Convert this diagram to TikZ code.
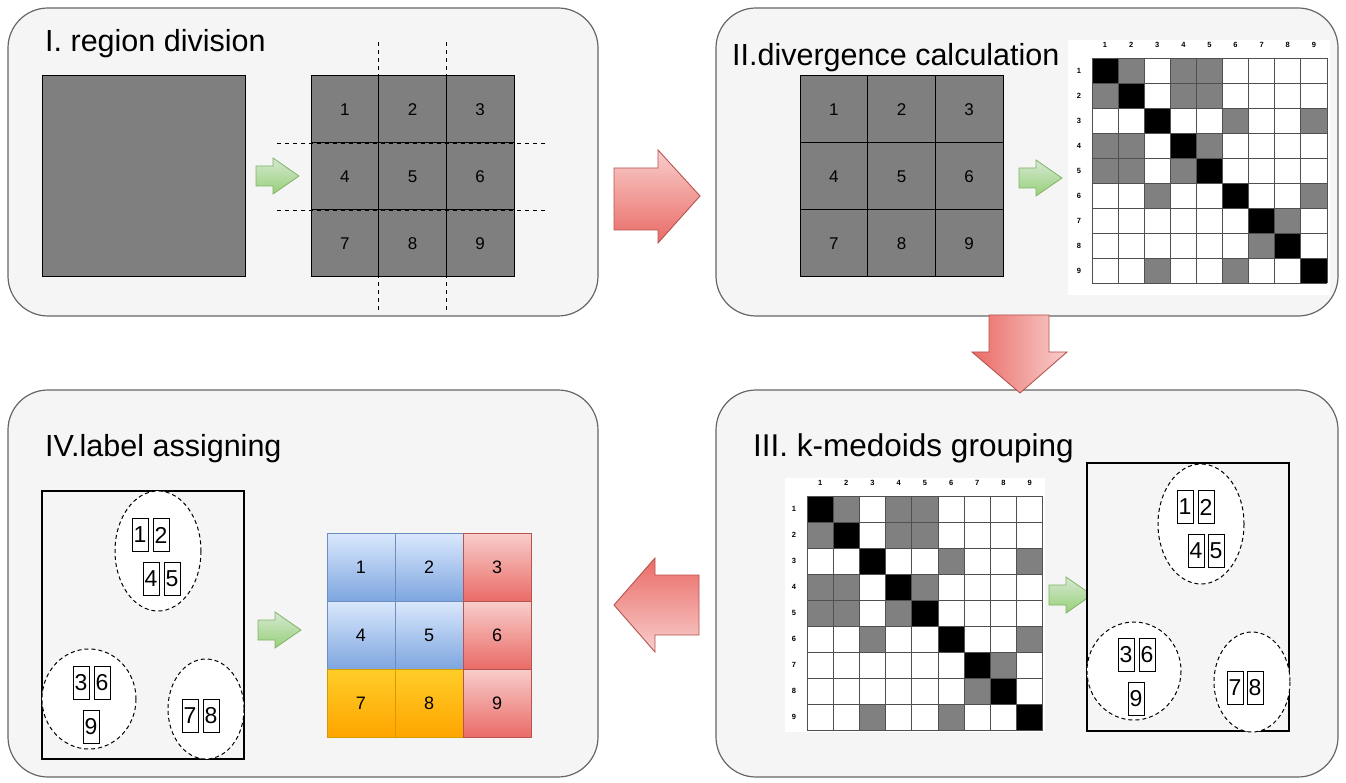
\documentclass[tikz,border=0pt]{standalone}
\usepackage{fontspec}
\setmainfont{Liberation Sans}
\definecolor{panelbg}{HTML}{F5F5F5}
\definecolor{panelbd}{HTML}{666666}
\definecolor{regiongray}{HTML}{7F7F7F}
\definecolor{matgray}{HTML}{808080}
\definecolor{matline}{HTML}{505050}
\definecolor{grnA}{HTML}{D5E8D4}
\definecolor{grnB}{HTML}{97D077}
\definecolor{grnD}{HTML}{82B366}
\definecolor{redA}{HTML}{F8CECC}
\definecolor{redB}{HTML}{EA6B66}
\definecolor{redD}{HTML}{B85450}
\definecolor{bluA}{HTML}{DAE8FC}
\definecolor{bluB}{HTML}{7EA6E0}
\definecolor{bluD}{HTML}{6C8EBF}
\definecolor{orgA}{HTML}{FFCD28}
\definecolor{orgB}{HTML}{FFA500}
\definecolor{orgD}{HTML}{D79B00}
\tikzset{
  panel/.style={draw=panelbd, fill=panelbg, line width=1.2pt, rounded corners=40pt},
  title/.style={anchor=base west, font=\fontsize{30.5}{36}\selectfont, inner sep=0pt},
  cellnum/.style={font=\fontsize{17}{20}\selectfont, inner sep=0pt},
  bignum/.style={font=\fontsize{18}{20}\selectfont, inner sep=0pt},
  matlab/.style={font=\fontsize{7.5}{8}\selectfont\bfseries, inner sep=0pt},
  sbox/.style={draw, line width=1pt, fill=white, minimum width=16pt, minimum height=33pt,
    inner sep=0pt, font=\fontsize{23}{24}\selectfont},
  cluster/.style={draw, dashed, dash pattern=on 4pt off 3pt, line width=1pt, fill=white},
  redarrow/.style={draw=redD, line width=0.9pt},
  grnarrow/.style={draw=grnD, line width=0.8pt, top color=grnA, bottom color=grnB},
  cutline/.style={draw, dash pattern=on 4pt off 4pt, line width=0.9pt},
  framebox/.style={draw, line width=1.1pt, fill=panelbg},
}
% green arrow, left-middle at (#1,#2)
\newcommand\grarrow[2]{%
  \draw[grnarrow] (#1,#2-10) -- ++(17,0) -- ++(0,-8) -- ++(26,18) -- ++(-26,18)
    -- ++(0,-8) -- ++(-17,0) -- cycle;}
% 3x3 gray region grid
\newcommand\regiongrid[3]{% x0, y0, prefix
  \fill[regiongray] (#1,#2) rectangle ++(203,201);
  \foreach \i in {1,2} {
    \draw[line width=1pt] ({#1+\i*67.67},#2) -- ++(0,201);
    \draw[line width=1pt] (#1,{#2+\i*67}) -- ++(203,0);
  }
  \draw[line width=1pt] (#1,#2) rectangle ++(203,201);
  \foreach \r in {0,1,2} \foreach \c in {0,1,2} {
    \pgfmathtruncatemacro\n{3*\r+\c+1}
    \node[cellnum] (#3\n) at ({#1+67.67*(\c+0.5)},{#2+67*(\r+0.5)}) {\n};
  }}
% divergence matrix
\newcommand\divmatrix[5]{% gx, gy, cw, ch, prefix
  \begin{scope}[shift={(#1,#2)}]
  \foreach \a/\b in {1/2,1/4,1/5,2/4,2/5,4/5,3/6,3/9,6/9,7/8} {
    \fill[matgray] ({(\b-1)*#3},{(\a-1)*#4}) rectangle ++(#3,#4);
    \fill[matgray] ({(\a-1)*#3},{(\b-1)*#4}) rectangle ++(#3,#4);
  }
  \foreach \a in {1,...,9}
    \fill[black] ({(\a-1)*#3},{(\a-1)*#4}) rectangle ++(#3,#4);
  \foreach \i in {0,...,9} {
    \draw[matline, line width=0.8pt] ({\i*#3},0) -- ({\i*#3},{9*#4});
    \draw[matline, line width=0.8pt] (0,{\i*#4}) -- ({9*#3},{\i*#4});
  }
  \foreach \i in {1,...,9} {
    \node[matlab] (#5c\i) at ({(\i-0.5)*#3},-13) {\i};
    \node[matlab] (#5r\i) at (-13,{(\i-0.5)*#4}) {\i};
  }
  \end{scope}}
\begin{document}
\begin{tikzpicture}[x=1pt, y=-1pt]
\useasboundingbox (0,0) rectangle (1346,783);
\fill[white] (0,0) rectangle (1346,783);

% ---------- panels ----------
\draw[panel] (8,8) rectangle (598,316);
\draw[panel] (716,8) rectangle (1338,316);
\draw[panel] (716,390) rectangle (1338,777);
\draw[panel] (8,390) rectangle (598,777);

\node[title] (t1) at (45,52) {I. region division};
\node[title] (t2) at (732,66) {II.divergence calculation};
\node[title, font=\fontsize{31.5}{36}\selectfont] (t3) at (753,456) {III. k-medoids grouping};
\node[title] (t4) at (45,456) {IV.label assigning};

% ---------- panel I ----------
\draw[fill=regiongray, line width=1pt] (42,76) rectangle (245,277);
\grarrow{256}{176}
\regiongrid{311}{76}{a}
\draw[cutline] (378.7,42) -- (378.7,312);
\draw[cutline] (446.3,42) -- (446.3,312);
\draw[cutline] (277,143) -- (548,143);
\draw[cutline] (277,210) -- (548,210);

% ---------- arrow I -> II ----------
\draw[redarrow, top color=redA, bottom color=redB]
  (614,168) -- (658,168) -- (658,150) -- (700,196) -- (658,243) -- (658,230) -- (614,230) -- cycle;

% ---------- panel II ----------
\regiongrid{800}{76}{b}
\grarrow{1019}{178}
\fill[white] (1068,40) rectangle (1330,295);
\divmatrix{1092}{58}{26.1}{25}{m}

% ---------- arrow II -> III ----------
\draw[redarrow, left color=redB, right color=redA]
  (989,315) -- (1049,315) -- (1049,352) -- (1067,352) -- (1020,393) -- (972,352) -- (989,352) -- cycle;

% ---------- panel III ----------
\fill[white] (785,478) rectangle (1045,732);
\divmatrix{807}{496}{26.2}{26}{n}
\grarrow{1049}{595}
\draw[framebox] (1087,463) rectangle (1289,731);
\draw[cluster] (1201,524) ellipse [x radius=43, y radius=60];
\draw[cluster] (1134,671) ellipse [x radius=47, y radius=49];
\draw[cluster] (1252,682) ellipse [x radius=38, y radius=50];
\node[sbox] (k1) at (1185,507) {1};
\node[sbox] (k2) at (1206,507) {2};
\node[sbox] (k4) at (1196,550.5) {4};
\node[sbox] (k5) at (1216,550.5) {5};
\node[sbox] (k3) at (1126,655) {3};
\node[sbox] (k6) at (1147,655) {6};
\node[sbox] (k9) at (1136,698.5) {9};
\node[sbox] (k7) at (1235,687.5) {7};
\node[sbox] (k8) at (1255,687.5) {8};

% ---------- arrow III -> IV ----------
\draw[redarrow, top color=redB, bottom color=redA]
  (699,575) -- (655,575) -- (655,558) -- (614,605) -- (655,652) -- (655,635) -- (699,635) -- cycle;

% ---------- panel IV ----------
\draw[framebox] (42,491) rectangle (244,759);
\draw[cluster] (158,551) ellipse [x radius=43, y radius=60];
\draw[cluster] (89,699) ellipse [x radius=47, y radius=50];
\draw[cluster] (206,709) ellipse [x radius=38, y radius=50];
\node[sbox] (l1) at (140,535) {1};
\node[sbox] (l2) at (161,535) {2};
\node[sbox] (l4) at (151,579) {4};
\node[sbox] (l5) at (172,579) {5};
\node[sbox] (l3) at (81,682.5) {3};
\node[sbox] (l6) at (102,682.5) {6};
\node[sbox] (l9) at (91,726.5) {9};
\node[sbox] (l7) at (190,715.5) {7};
\node[sbox] (l8) at (211,715.5) {8};
\grarrow{258}{630}

\foreach \n/\r/\c/\ca/\cb/\cd in {1/0/0/bluA/bluB/bluD, 2/0/1/bluA/bluB/bluD, 3/0/2/redA/redB/redD,
    4/1/0/bluA/bluB/bluD, 5/1/1/bluA/bluB/bluD, 6/1/2/redA/redB/redD,
    7/2/0/orgA/orgB/orgD, 8/2/1/orgA/orgB/orgD, 9/2/2/redA/redB/redD} {
  \draw[draw=\cd, line width=1pt, top color=\ca, bottom color=\cb]
    ({327+68*\c},{533+68*\r}) rectangle ++(68,68);
  \node[bignum] (g\n) at ({327+68*(\c+0.5)},{533+68*(\r+0.5)}) {\n};
}
\end{tikzpicture}
\end{document}
